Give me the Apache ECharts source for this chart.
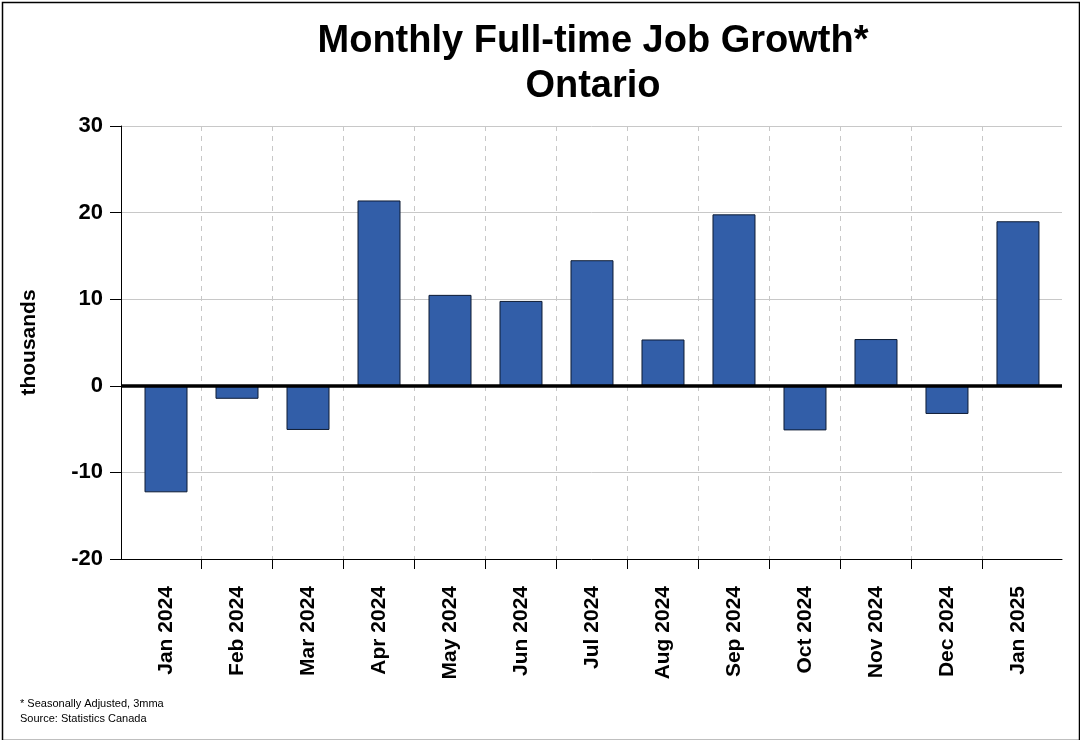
<!DOCTYPE html>
<html>
<head>
<meta charset="utf-8">
<script src="https://cdn.jsdelivr.net/npm/echarts@6/dist/echarts.min.js"></script>
<style>
html,body{margin:0;padding:0;background:#fff;}
#chart{width:1080px;height:740px;}
</style>
</head>
<body>
<div id="chart"></div>
<script>
const categories = ['Jan 2024','Feb 2024','Mar 2024','Apr 2024','May 2024','Jun 2024','Jul 2024','Aug 2024','Sep 2024','Oct 2024','Nov 2024','Dec 2024','Jan 2025'];
const values = [-12.3, -1.5, -5.1, 21.4, 10.5, 9.8, 14.5, 5.35, 19.8, -5.15, 5.4, -3.25, 19.0];
const yTicks = [-20, -10, 0, 10, 20, 30];
const titleLines = ['Monthly Full-time Job Growth*', 'Ontario'];
const footnotes = ['* Seasonally Adjusted, 3mma', 'Source: Statistics Canada'];
const yName = 'thousands';

const FONT = "'Liberation Sans', Arial, sans-serif";
const catIdx = categories.map((c, i) => i);
const boundaries = categories.slice(1).map((c, i) => i + 0.5);

const chart = echarts.init(document.getElementById('chart'), null, {renderer: 'canvas'});
chart.setOption({
  animation: false,
  backgroundColor: '#fff',
  title: {
    text: titleLines.join('\n'),
    left: 588,
    textAlign: 'center',
    top: 14,
    textStyle: {fontFamily: FONT, fontSize: 38, fontWeight: 'bold', color: '#000', lineHeight: 45}
  },
  graphic: [
    {type: 'rect', left: 0, top: 0, z: 100, silent: true,
     shape: {x: 0, y: 0, width: 1077, height: 738},
     style: {fill: 'none', stroke: '#000', lineWidth: 1.5}},
    {type: 'text', left: 20, top: 696, silent: true,
     style: {text: footnotes.join('\n'), font: '11px ' + FONT, fill: '#000', lineHeight: 15}}
  ],
  grid: {left: 121, right: 18, top: 126, bottom: 181, containLabel: false},
  xAxis: {
    type: 'value',
    min: -0.634,
    max: 12.62,
    axisLine: {show: true, onZero: false, lineStyle: {color: '#000', width: 1}},
    axisTick: {show: true, customValues: boundaries, length: 10, lineStyle: {color: '#000'}},
    axisLabel: {
      show: true, customValues: catIdx, rotate: 90, margin: 27,
      formatter: v => categories[Math.round(v)],
      fontFamily: FONT, fontSize: 21, fontWeight: 'bold', color: '#000'
    },
    splitLine: {show: true, lineStyle: {color: '#c8c8c8', type: [5, 5], width: 1}}
  },
  yAxis: {
    type: 'value',
    min: yTicks[0],
    max: yTicks[yTicks.length - 1],
    interval: 10,
    name: yName,
    nameLocation: 'middle',
    nameRotate: 90,
    nameGap: 81,
    nameTextStyle: {fontFamily: FONT, fontSize: 21, fontWeight: 'bold', color: '#000'},
    axisLine: {show: true, onZero: false, lineStyle: {color: '#000', width: 1}},
    axisTick: {show: true, length: 11, lineStyle: {color: '#000'}},
    axisLabel: {margin: 18, fontFamily: FONT, fontSize: 22, fontWeight: 'bold', color: '#000'},
    splitLine: {show: true, lineStyle: {color: '#c8c8c8', width: 1}}
  },
  series: [{
    type: 'bar',
    data: values.map((v, i) => [i, v]),
    barWidth: 43,
    itemStyle: {color: '#325ea8', borderColor: '#0d1b33', borderWidth: 1},
    markLine: {
      silent: true,
      symbol: 'none',
      label: {show: false},
      lineStyle: {color: '#000', width: 3.5, type: 'solid'},
      data: [{yAxis: 0}]
    }
  }]
});
</script>
</body>
</html>
